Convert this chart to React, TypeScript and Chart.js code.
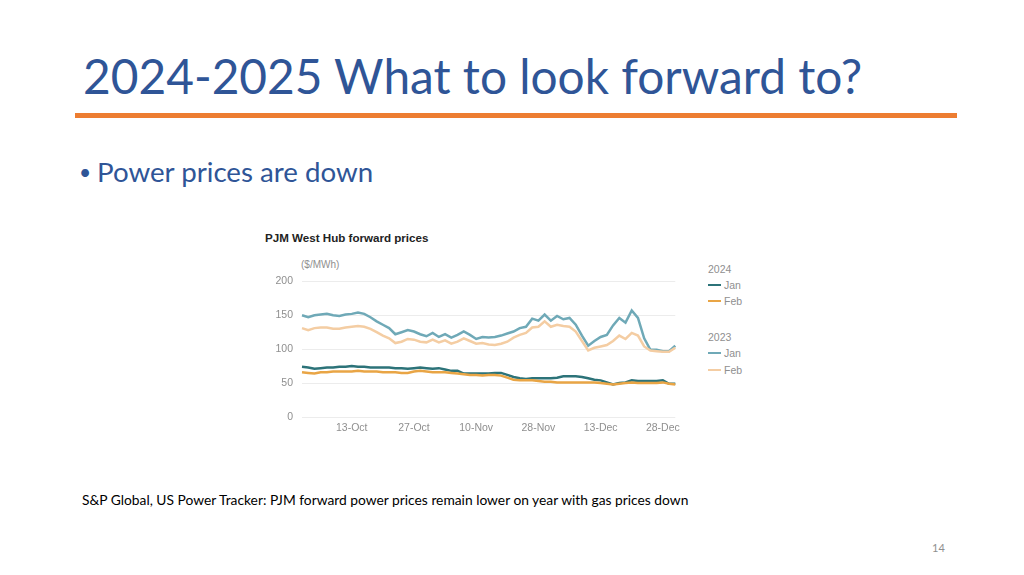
import React, { useEffect, useRef } from 'react';
import { Chart, registerables } from 'chart.js';

Chart.register(...registerables);

// 61 trading days, Oct..Dec; only a few of them carry a tick label
const tickLabels = ['13-Oct', '27-Oct', '10-Nov', '28-Nov', '13-Dec', '28-Dec'];
const tickIndex = [8, 18, 28, 38, 48, 58];
const days = Array.from({ length: 61 }, (_, i) => String(i));

const yTicks = [0, 50, 100, 150, 200];

const jan2023 = [
  150, 147, 150, 151, 152, 150, 149, 151, 152, 154, 152, 147, 141, 136, 131, 122,
  125, 128, 126, 122, 119, 124, 118, 122, 117, 121, 126, 121, 115, 118, 117, 118,
  120, 123, 126, 131, 133, 145, 142, 151, 142, 149, 144, 146, 136, 120, 105, 112,
  118, 121, 135, 146, 139, 157, 146, 116, 99, 99, 97, 97, 105,
];
const feb2023 = [
  131, 128, 131, 132, 132, 130, 130, 132, 133, 134, 133, 130, 125, 120, 116, 109,
  111, 115, 114, 111, 110, 114, 110, 113, 108, 111, 116, 112, 108, 109, 107, 106,
  108, 111, 117, 121, 124, 132, 133, 141, 133, 136, 134, 133, 126, 112, 98, 102,
  104, 106, 112, 120, 115, 124, 120, 104, 98, 97, 96, 96, 102,
];
const jan2024 = [
  74, 73, 71, 72, 73, 73, 74, 74, 75, 74, 74, 73, 73, 73, 73, 72,
  72, 71, 72, 73, 72, 71, 72, 70, 68, 68, 64, 64, 64, 64, 64, 65,
  65, 62, 59, 57, 56, 57, 57, 57, 57, 58, 60, 60, 60, 59, 57, 55,
  54, 51, 48, 50, 51, 54, 53, 53, 53, 53, 54, 49, 49,
];
const feb2024 = [
  66, 65, 64, 66, 66, 67, 67, 67, 67, 68, 67, 67, 67, 66, 66, 66,
  65, 65, 67, 68, 67, 66, 66, 66, 65, 64, 63, 62, 62, 61, 62, 62,
  61, 58, 55, 54, 54, 54, 53, 52, 52, 51, 51, 51, 51, 51, 51, 51,
  50, 49, 48, 49, 50, 51, 50, 50, 50, 50, 51, 49, 48,
];

const colors = {
  jan2024: '#2c7379',
  feb2024: '#e9a545',
  jan2023: '#6fa9b7',
  feb2023: '#f4cda3',
};

const chartFont = '"Liberation Sans", Arial, sans-serif';
const slideFont = 'Lato, "Open Sans", sans-serif';
const blue = '#2f5597';
const grey = '#8f8f8f';

const LegendRow: React.FC<{ color: string; label: string; top: number }> = ({ color, label, top }) => (
  <div style={{ position: 'absolute', left: 708, top, display: 'flex', alignItems: 'center', color: grey, fontSize: 10.5 }}>
    <span style={{ display: 'inline-block', width: 13, height: 2.5, background: color, marginRight: 3 }} />
    {label}
  </div>
);

export default function App() {
  const canvasRef = useRef<HTMLCanvasElement | null>(null);

  useEffect(() => {
    if (!canvasRef.current) return;
    const chart = new Chart(canvasRef.current, {
      type: 'line',
      data: {
        labels: days,
        datasets: [
          { label: '2023 Feb', data: feb2023, borderColor: colors.feb2023 },
          { label: '2023 Jan', data: jan2023, borderColor: colors.jan2023 },
          { label: '2024 Feb', data: feb2024, borderColor: colors.feb2024 },
          { label: '2024 Jan', data: jan2024, borderColor: colors.jan2024 },
        ].map((d) => ({ ...d, borderWidth: 2.5, pointRadius: 0, tension: 0, fill: false })),
      },
      options: {
        animation: false,
        responsive: false,
        maintainAspectRatio: false,
        layout: { padding: { left: 0, right: 7, top: 4, bottom: 0 } },
        plugins: { legend: { display: false }, tooltip: { enabled: false } },
        scales: {
          x: {
            type: 'category',
            offset: false,
            grid: { display: false, drawTicks: false },
            border: { display: false },
            afterFit: (s: any) => { s.height = 25; },
            afterBuildTicks: (s: any) => { s.ticks = tickIndex.map((v) => ({ value: v })); },
            ticks: {
              autoSkip: false,
              maxRotation: 0,
              padding: 5,
              color: grey,
              font: { family: chartFont, size: 10.5 },
              callback: (v: any) => {
                const k = tickIndex.indexOf(Number(v));
                return k >= 0 ? tickLabels[k] : '';
              },
            },
          },
          y: {
            min: 0,
            max: 200,
            afterFit: (s: any) => { s.width = 47; },
            afterBuildTicks: (s: any) => { s.ticks = yTicks.map((v) => ({ value: v })); },
            grid: { color: '#ececec', lineWidth: 1, drawTicks: false },
            border: { display: false },
            ticks: {
              padding: 9,
              color: grey,
              font: { family: chartFont, size: 10.5 },
            },
          },
        },
      },
    });
    return () => chart.destroy();
  }, []);

  return (
    <div style={{ position: 'fixed', left: 0, top: 0, width: 1024, height: 575, background: '#fff', overflow: 'hidden' }}>
      <div style={{ position: 'absolute', left: 83, top: 47, fontFamily: slideFont, fontSize: 47.8, color: blue, whiteSpace: 'nowrap', lineHeight: 1.2 }}>
        2024-2025 What to look forward to?
      </div>
      <div style={{ position: 'absolute', left: 75, top: 113, width: 882, height: 5, background: '#ed7d31' }} />
      <div style={{ position: 'absolute', left: 79, top: 155, fontFamily: slideFont, fontSize: 27.7, color: blue, whiteSpace: 'nowrap' }}>
        <span style={{ display: 'inline-block', width: 18, fontSize: 21, verticalAlign: 2 }}>•</span>Power prices are down
      </div>

      <div style={{ position: 'absolute', left: 265, top: 231, fontFamily: chartFont, fontSize: 11.6, fontWeight: 'bold', color: '#222' }}>
        PJM West Hub forward prices
      </div>
      <div style={{ position: 'absolute', left: 301, top: 259, fontFamily: chartFont, fontSize: 10, color: grey }}>
        ($/MWh)
      </div>
      <canvas ref={canvasRef} width={430} height={176} style={{ position: 'absolute', left: 255, top: 266, width: 430, height: 176 }} />

      <div style={{ fontFamily: chartFont }}>
        <div style={{ position: 'absolute', left: 708, top: 263, color: grey, fontSize: 10.5 }}>2024</div>
        <LegendRow color={colors.jan2024} label="Jan" top={279} />
        <LegendRow color={colors.feb2024} label="Feb" top={295} />
        <div style={{ position: 'absolute', left: 708, top: 331, color: grey, fontSize: 10.5 }}>2023</div>
        <LegendRow color={colors.jan2023} label="Jan" top={347} />
        <LegendRow color={colors.feb2023} label="Feb" top={364} />
      </div>

      <div style={{ position: 'absolute', left: 82, top: 491, fontFamily: slideFont, fontSize: 13.8, color: '#000', whiteSpace: 'nowrap' }}>
        S&amp;P Global, US Power Tracker: PJM forward power prices remain lower on year with gas prices down
      </div>
      <div style={{ position: 'absolute', left: 932, top: 541, fontFamily: slideFont, fontSize: 11, color: grey }}>14</div>
    </div>
  );
}
